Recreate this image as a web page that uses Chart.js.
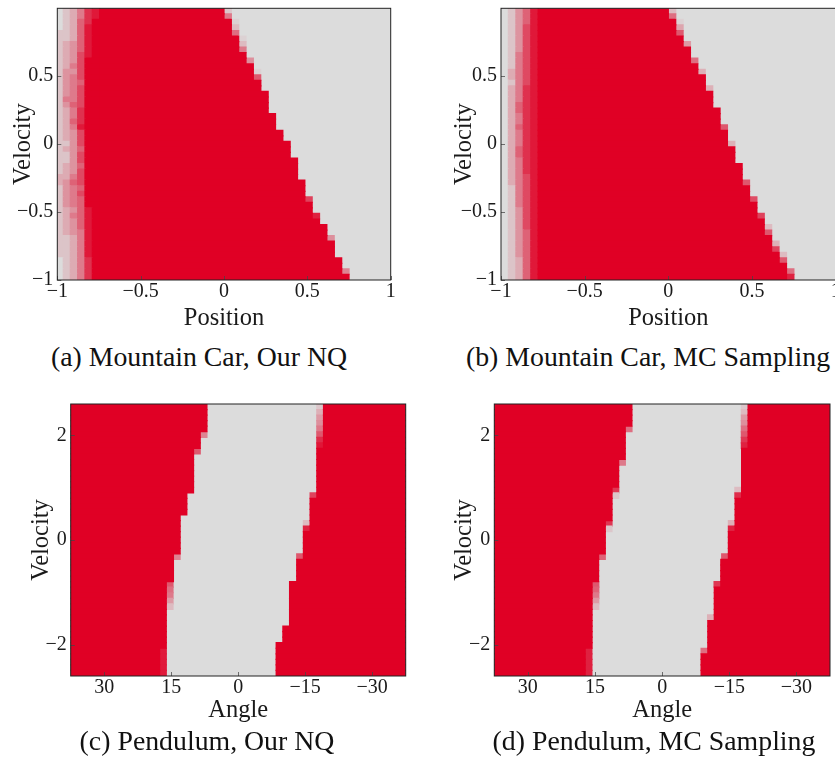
<!DOCTYPE html>
<html><head><meta charset="utf-8"><title>Policy maps</title>
<script src="https://cdn.jsdelivr.net/npm/chart.js@4.4.1/dist/chart.umd.min.js"></script>
<style>
html,body{margin:0;padding:0;background:#fff;}
body{position:relative;width:835px;height:765px;overflow:hidden;}
canvas{position:absolute;}
.cap{position:absolute;font-family:'Liberation Serif','Times New Roman',serif;font-size:27.8px;line-height:30px;color:#111;white-space:nowrap;transform:translateX(-50%);}
</style></head><body>
<canvas id="pa" width="400" height="335" style="left:0;top:0"></canvas>
<canvas id="pb" width="410" height="335" style="left:440px;top:0"></canvas>
<canvas id="pc" width="420" height="345" style="left:0;top:385px"></canvas>
<canvas id="pd" width="410" height="345" style="left:440px;top:385px"></canvas>
<div class="cap" style="left:199px;top:342px">(a) Mountain Car, Our NQ</div>
<div class="cap" style="left:648px;top:342px">(b) Mountain Car, MC Sampling</div>
<div class="cap" style="left:207px;top:726px">(c) Pendulum, Our NQ</div>
<div class="cap" style="left:654px;top:726px">(d) Pendulum, MC Sampling</div>
<script>
// ======================= DATA =======================
// Mountain Car grids: 49 velocity rows, listed top (v≈+1) to bottom (v≈−1)
const mcPosTicks = [-1, -0.5, 0, 0.5, 1];
const mcVelTicks = [-1, -0.5, 0, 0.5];

// (a) Our NQ — left fade cells (digit = probability×9), red boundary, boundary cell prob, light patches
const nqFadeEdges = [-1, -0.964, -0.922, -0.878, -0.834, -0.79, -0.746];
const nqFade = ["012478","012478","012579","012589","112589","112589","123589","123589","123689","123699",
  "124699","133699","134699","134599","134699","134699","144699","135699","124799","124799",
  "125799","124899","123699","123699","113699","123599","113699","113699","123599","123699",
  "224699","235699","134599","134699","134599","134599","123589","124589","123589","123589",
  "123489","112489","112489","112489","112489","012479","012479","012479","012479"];
const nqRedEnd = [0,0,.044,.044,.044,.088,.088,.088,.132,.132,.176,.176,.176,.221,.221,.265,.265,.265,.265,.309,
  .309,.309,.353,.353,.397,.397,.397,.441,.441,.441,.441,.485,.485,.485,.485,.529,.529,.529,.573,.617,
  .617,.617,.662,.662,.662,.706,.706,.706,.750];
const nqEdgeP = [.1,.45,.05,.15,.5,.05,.15,.45,0,.35, 0,.05,.6,0,0,0,0,0,0,0, 0,0,0,0,0,0,0,0,0,0,
  0,0,0,0,.7,0,0,.85,0,0, 0,.35,0,0,0,0,0,.4,0];
const nqPatches = [[43,5,5,.9],[43,7,7,.9],[44,3,3,.9],[44,5,6,.86],[44,8,8,.92],
  [45,2,2,.92],[45,4,4,.88],[45,5,5,.85],[45,6,6,.88],[45,8,8,.86],[45,10,10,.9],
  [46,1,1,.92],[46,3,3,.86],[46,5,5,.83],[46,6,6,.86],[46,7,7,.88],[46,9,9,.88],
  [47,1,1,.9],[47,3,3,.84],[47,4,4,.9],[47,5,6,.85],[47,8,8,.86],[47,10,10,.9],
  [48,0,0,.9],[48,1,1,.88],[48,2,2,.9],[48,4,4,.9],[48,6,6,.88],[48,9,9,.9],[48,11,11,.9]];

// (b) MC Sampling
const mcFadeEdges = [-1, -0.956, -0.911, -0.867, -0.822, -0.778];
const mcFade = ["01358","01358","01358","01368","01368","01368","01368","01368","01468","01468",
  "01468","02468","02468","01468","02478","02478","02478","02578","02578","02478",
  "02478","02578","02478","02478","02478","02578","02578","02478","02478","02478",
  "02468","02468","01468","01468","01468","01468","01368","01368","01368","01368",
  "01358","01358","01358","01358","01358","01258","01258","01258","01258"];
const mcRedEnd = [0,0,.044,.044,.044,.088,.088,.132,.132,.132,.176,.176,.221,.221,.221,.265,.265,.265,.309,.309,
  .309,.309,.353,.353,.353,.397,.397,.397,.441,.441,.441,.441,.485,.485,.485,.529,.529,.529,.573,.573,
  .573,.617,.617,.617,.662,.662,.706,.706,.706];
const mcEdgeP = [.15,.5,.05,.25,.6,0,.3,0,0,.5, 0,.2,0,0,.2,0,0,0,0,0, 0,.6,0,0,.2,0,0,0,0,0,
  0,.6,0,0,.65,0,0,.7,0,.15, .6,0,.2,.7,.15,.6,0,.5,.85];
const mcPatches = [[42,4,6,.92],[43,3,3,.9],[43,4,6,.87],[43,7,7,.9],
  [44,2,2,.9],[44,3,8,.85],[44,9,9,.9],
  [45,1,1,.9],[45,2,2,.85],[45,3,8,.8],[45,9,10,.86],
  [46,1,1,.88],[46,2,3,.82],[46,4,7,.74],[46,8,10,.82],
  [47,0,1,.86],[47,2,3,.78],[47,4,7,.7],[47,8,10,.8],[47,11,11,.88],
  [48,0,1,.88],[48,2,3,.8],[48,4,6,.72],[48,7,9,.8],[48,10,11,.88]];

// Pendulum grids: 49 velocity rows, top (v≈+2.6) to bottom (v≈−2.6); angles in degrees
const pdAngleTicks = [30, 15, 0, -15, -30];
const pdVelTicks = [-2, 0, 2];

// (c) Our NQ: left red region ends at pcLeftEnd, right red region starts at pcRightStart
const pcLeftEnd = [7,7,7,7,7,8.5,8.5,8.5,10,10, 10,10,10,10,10,10,11.5,11.5,11.5,11.5,
  13,13,13,13,13,13,13,14.5,14.5,14.5, 14.5,14.5,16.1,16.1,16.1,16.1,16.1,16.1,16.1,16.1,
  16.1,16.1,16.1,16.1,17.6,17.6,17.6,17.6,17.6];
const pcLeftP = [0,0,0,0,0,.4,0,0,.6,0, 0,0,0,0,0,0,0,0,0,0, 0,0,0,0,0,0,0,.4,0,0,
  0,0,.6,.5,.45,.3,.15,0,0,0, 0,0,0,0,.88,.88,.88,.88,.88];
const pcRightStart = [-19.1,-19.1,-19.1,-19.1,-19.1,-19.1,-19.1,-19.1,-17.6,-17.6,
  -17.6,-17.6,-17.6,-17.6,-17.6,-17.6,-17.6,-16.1,-16.1,-16.1, -16.1,-16.1,-16.1,-14.6,-14.6,-14.6,-14.6,-14.6,-13.1,-13.1,
  -13.1,-13.1,-11.5,-11.5,-11.5,-11.5,-11.5,-11.5,-11.5,-11.5, -10,-10,-10,-8.5,-8.5,-8.5,-8.5,-8.5,-8.5];
const pcRightP = [.1,.2,.3,.35,.45,.6,.8,.9,0,0, 0,0,0,0,0,0,.7,0,0,0, 0,.15,.85,0,0,0,0,.6,0,0,
  0,0,0,0,0,0,0,0,0,0, 0,0,0,0,0,0,0,0,0];

// (d) MC Sampling
const pdLeftEnd = [6.76,6.76,6.76,6.76,8.24,8.24,8.24,8.24,8.24,8.24, 9.72,9.72,9.72,9.72,9.72,11.2,11.2,11.2,11.2,11.2,
  11.2,12.7,12.7,12.7,12.7,12.7,12.7,14.2,14.2,14.2, 14.2,14.2,15.66,15.66,15.66,15.66,15.66,15.66,15.66,15.66,
  15.66,15.66,15.66,15.66,17.2,17.2,17.2,17.2,17.2];
const pdLeftP = [0,0,0,0,.5,0,0,0,0,0, .45,0,0,0,0,.75,.1,0,0,0, 0,.75,.1,0,0,0,0,.55,0,0,
  0,0,.6,.55,.45,.3,.15,0,0,0, 0,0,0,0,.85,.85,.85,.85,.85];
const pdRightStart = [-19.2,-19.2,-19.2,-19.2,-19.2,-19.2,-19.2,-19.2,-17.75,-17.75,
  -17.75,-17.75,-17.75,-17.75,-17.75,-17.75,-17.75,-16.3,-16.3,-16.3, -16.3,-16.3,-16.3,-14.8,-14.8,-14.8,-14.8,-14.8,-13.1,-13.1,
  -13.1,-13.1,-13.1,-11.65,-11.65,-11.65,-11.65,-11.65,-11.65,-10.2, -10.2,-10.2,-10.2,-10.2,-10.2,-8.7,-8.7,-8.7,-8.7];
const pdRightP = [.1,.15,.3,.35,.5,.6,.75,.85,0,0, 0,0,0,0,0,.15,.8,0,0,0, 0,.2,.85,0,0,0,0,.6,0,0,
  0,0,.75,0,0,0,0,0,.2,0, 0,0,0,0,.5,0,0,0,0];

// ======================= STYLE / BUILD =======================
const MC_CELL = 0.0441, PD_CELL = 1.5, PD_AMAX = 37.5, PD_VMAX = 2.6;
const FONT = "'Liberation Serif','Times New Roman',serif";
const INK = '#1a1a1a';
const GRAY = [220,220,220], RED = [224,0,37];
const mix = p => 'rgb(' + GRAY.map((g, i) => Math.round(g + (RED[i] - g) * p)).join(',') + ')';
const fmt = v => (v < 0 ? '\u2212' + Math.abs(v) : String(v));

function barSet(data, color) {
  return { data, backgroundColor: color, borderWidth: 0, grouped: false, inflateAmount: 0.6,
           barPercentage: 1, categoryPercentage: 1, clip: 0 };
}

function mcDatasets(fadeEdges, fade, redEnd, edgeP, patches) {
  const n = redEnd.length;
  const vAt = r => 1 - (r + 0.5) * 2 / n;
  const solidStart = fadeEdges[fadeEdges.length - 1];
  const red = redEnd.map((e, r) => ({ x: [solidStart, e], y: vAt(r) }));
  const cells = [], colors = [];
  const add = (x0, x1, r, p) => { cells.push({ x: [x0, x1], y: vAt(r) }); colors.push(mix(p)); };
  fade.forEach((s, r) => s.split('').forEach((d, k) => add(fadeEdges[k], fadeEdges[k + 1], r, Number(d) / 9)));
  edgeP.forEach((p, r) => { if (p > 0) add(redEnd[r], redEnd[r] + MC_CELL, r, p); });
  patches.forEach(([r, j0, j1, p]) => { for (let j = j0; j <= j1; j++) add(j * MC_CELL, (j + 1) * MC_CELL, r, p); });
  return [barSet(red, mix(1)), barSet(cells, colors)];
}

function pdDatasets(leftEnd, leftP, rightStart, rightP) {
  const n = leftEnd.length;
  const vAt = r => PD_VMAX - (r + 0.5) * 2 * PD_VMAX / n;
  const left = leftEnd.map((a, r) => ({ x: [PD_AMAX, a], y: vAt(r) }));
  const right = rightStart.map((a, r) => ({ x: [a, -PD_AMAX], y: vAt(r) }));
  const cells = [], colors = [];
  const add = (x0, x1, r, p) => { cells.push({ x: [x0, x1], y: vAt(r) }); colors.push(mix(p)); };
  leftP.forEach((p, r) => { if (p > 0) add(leftEnd[r] - PD_CELL, leftEnd[r], r, p); });
  rightP.forEach((p, r) => { if (p > 0) add(rightStart[r], rightStart[r] + PD_CELL, r, p); });
  return [barSet(left, mix(1)), barSet(right, mix(1)), barSet(cells, colors)];
}

const framePlugin = {
  id: 'frame',
  beforeDatasetsDraw(chart) {
    const { ctx, chartArea: a } = chart;
    ctx.save(); ctx.fillStyle = mix(0);
    ctx.fillRect(a.left, a.top, a.right - a.left, a.bottom - a.top); ctx.restore();
  },
  afterDatasetsDraw(chart) {
    const { ctx, chartArea: a, scales: { x, y } } = chart;
    ctx.save();
    ctx.lineWidth = 1; ctx.strokeStyle = 'rgba(70,70,70,0.75)';
    x.ticks.forEach(t => { const p = Math.round(x.getPixelForValue(t.value)) + 0.5;
      ctx.beginPath(); ctx.moveTo(p, a.bottom); ctx.lineTo(p, a.bottom - 4); ctx.stroke(); });
    y.ticks.forEach(t => { const p = Math.round(y.getPixelForValue(t.value)) + 0.5;
      ctx.beginPath(); ctx.moveTo(a.left, p); ctx.lineTo(a.left + 4, p); ctx.stroke(); });
    ctx.strokeStyle = '#222';
    ctx.strokeRect(a.left, a.top, a.right - a.left, a.bottom - a.top);
    ctx.restore();
  }
};

function makeChart(id, datasets, o) {
  const tickFont = { family: FONT, size: 20, lineHeight: 1 };
  const titleFont = { family: FONT, size: 24.5 };
  const noPad = s => { s.paddingTop = 0; s.paddingBottom = 0; s.paddingLeft = 0; s.paddingRight = 0; };
  return new Chart(document.getElementById(id), {
    type: 'bar',
    data: { datasets },
    options: {
      indexAxis: 'y', responsive: false, animation: false, devicePixelRatio: 1,
      layout: { padding: { top: o.padTop, right: o.padRight, left: 0, bottom: 0 } },
      plugins: { legend: { display: false }, tooltip: { enabled: false } },
      scales: {
        x: { type: 'linear', min: o.xMin, max: o.xMax, reverse: !!o.xReverse,
          afterBuildTicks: s => { s.ticks = o.xTicks.map(v => ({ value: v })); },
          afterFit: s => { s.height = o.xAxisH; noPad(s); },
          grid: { display: false, drawTicks: false }, border: { display: false },
          ticks: { callback: fmt, autoSkip: false, maxRotation: 0, padding: o.xTickPad, color: INK, font: tickFont },
          title: { display: true, text: o.xTitle, color: INK, font: titleFont, padding: { top: 0, bottom: o.xTitlePad } } },
        y: { type: 'linear', min: o.yMin, max: o.yMax, offset: false,
          afterBuildTicks: s => { s.ticks = o.yTicks.map(v => ({ value: v })); },
          afterFit: s => { s.width = o.yAxisW; noPad(s); },
          grid: { display: false, drawTicks: false, offset: false }, border: { display: false },
          ticks: { callback: fmt, autoSkip: false, padding: 4, color: INK, font: tickFont },
          title: { display: true, text: 'Velocity', color: INK, font: titleFont, padding: { top: o.yTitlePad, bottom: 0 } } }
      }
    },
    plugins: [framePlugin]
  });
}

const mcAxes = { xMin: -1, xMax: 1, yMin: -1, yMax: 1, xTicks: mcPosTicks, yTicks: mcVelTicks,
  xTitle: 'Position', padTop: 8.3, xAxisH: 55, xTickPad: 2, xTitlePad: 1.5 };
const pdAxes = { xMin: -PD_AMAX, xMax: PD_AMAX, xReverse: true, yMin: -PD_VMAX, yMax: PD_VMAX,
  xTicks: pdAngleTicks, yTicks: pdVelTicks, xTitle: 'Angle', padTop: 19, xAxisH: 54, xTickPad: 2, xTitlePad: 5 };

makeChart('pa', mcDatasets(nqFadeEdges, nqFade, nqRedEnd, nqEdgeP, nqPatches),
  Object.assign({}, mcAxes, { padRight: 9.3, yAxisW: 57.3, yTitlePad: 8.5 }));
makeChart('pb', mcDatasets(mcFadeEdges, mcFade, mcRedEnd, mcEdgeP, mcPatches),
  Object.assign({}, mcAxes, { padRight: 14.3, yAxisW: 61, yTitlePad: 9.6 }));
makeChart('pc', pdDatasets(pcLeftEnd, pcLeftP, pcRightStart, pcRightP),
  Object.assign({}, pdAxes, { padRight: 14.3, yAxisW: 70.7, yTitlePad: 26.6 }));
makeChart('pd', pdDatasets(pdLeftEnd, pdLeftP, pdRightStart, pdRightP),
  Object.assign({}, pdAxes, { padRight: 20, yAxisW: 54.3, yTitlePad: 9.6 }));
</script>
</body></html>
